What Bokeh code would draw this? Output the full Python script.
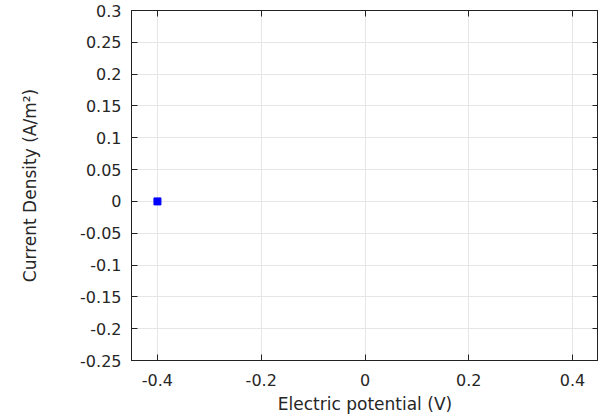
from bokeh.plotting import figure
from bokeh.models import LinearAxis, FixedTicker, CustomJSTickFormatter, Range1d
from bokeh.embed import file_html
from bokeh.resources import INLINE

# data
potential = [-0.4]
current_density = [0.0]

x_ticks = [-0.4, -0.2, 0.0, 0.2, 0.4]
y_ticks = [-0.25, -0.2, -0.15, -0.1, -0.05, 0.0, 0.05, 0.1, 0.15, 0.2, 0.25, 0.3]

FONT = "DejaVu Sans"
TXT = "#262626"

p = figure(width=598, height=419, output_backend="svg", toolbar_location=None,
           x_range=Range1d(-0.45, 0.45), y_range=Range1d(-0.25, 0.3),
           min_border_left=131, min_border_right=0, min_border_top=10, min_border_bottom=59)
p.outline_line_color = "#222222"

bottom = p.below[0]
left = p.left[0]

fmt = CustomJSTickFormatter(code="return String(Math.round(tick*100)/100);")
blank = CustomJSTickFormatter(code="return '';")

bottom.ticker = FixedTicker(ticks=x_ticks)
bottom.formatter = fmt
bottom.axis_label = "Electric potential (V)"
left.ticker = FixedTicker(ticks=y_ticks)
left.formatter = fmt
left.axis_label = "Current Density (A/m²)"

top = LinearAxis(ticker=FixedTicker(ticks=x_ticks), formatter=blank,
                 major_label_standoff=0, axis_label_standoff=0)
right = LinearAxis(ticker=FixedTicker(ticks=y_ticks), formatter=blank,
                   major_label_standoff=0, axis_label_standoff=0)
p.add_layout(top, "above")
p.add_layout(right, "right")

for ax in [bottom, left, top, right]:
    ax.major_tick_in = 6
    ax.major_tick_out = 0
    ax.minor_tick_line_color = None
    ax.axis_line_color = "#222222"
    ax.major_tick_line_color = "#222222"
    ax.major_label_text_font = FONT
    ax.major_label_text_color = TXT
    ax.axis_label_text_font = FONT
    ax.axis_label_text_color = TXT
    ax.axis_label_text_font_style = "normal"

for ax in [bottom, left]:
    ax.major_label_text_font_size = "16px"
    ax.axis_label_text_font_size = "17px"

bottom.major_label_standoff = 13
bottom.axis_label_standoff = 5
left.major_label_standoff = 10
left.axis_label_standoff = 37

p.xgrid.grid_line_color = "#e6e6e6"
p.ygrid.grid_line_color = "#e6e6e6"

p.scatter(potential, current_density, marker="square", size=7,
          fill_color="#0000ff", line_color="#0000ff")

open("out.html", "w").write(file_html(p, INLINE))
